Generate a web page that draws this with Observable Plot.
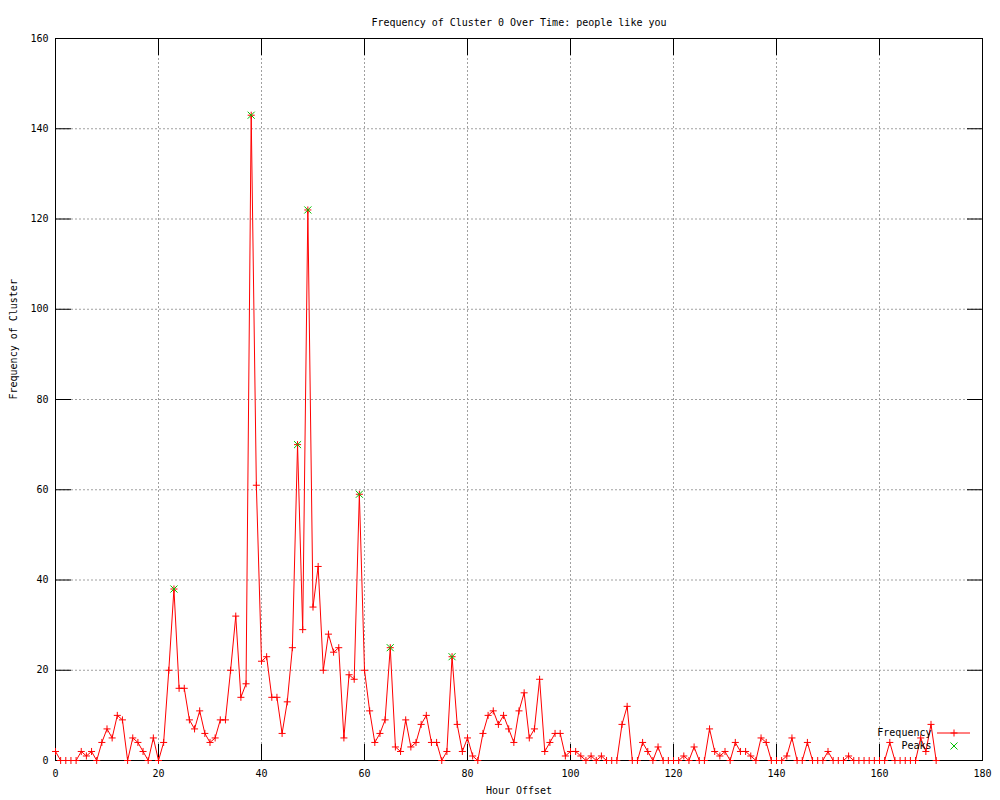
<!DOCTYPE html>
<html>
<head>
<meta charset="utf-8">
<script src="https://cdn.jsdelivr.net/npm/d3@7"></script>
<script src="https://cdn.jsdelivr.net/npm/@observablehq/plot@0.6"></script>
<style>
  html, body { margin: 0; padding: 0; background: #ffffff; }
  #chart svg { display: block; }
</style>
</head>
<body>
<div id="chart"></div>
<script>
// ---- Data ----
const titleText = "Frequency of Cluster 0 Over Time: people like you";
const xLabel = "Hour Offset";
const yLabel = "Frequency of Cluster";
const seriesNames = ["Frequency", "Peaks"];

// Frequency per hour offset, starting at hour 0
const frequency = [
  2, 0, 0, 0, 0, 2, 1, 2, 0, 4,
  7, 5, 10, 9, 0, 5, 4, 2, 0, 5,
  0, 4, 20, 38, 16, 16, 9, 7, 11, 6,
  4, 5, 9, 9, 20, 32, 14, 17, 143, 61,
  22, 23, 14, 14, 6, 13, 25, 70, 29, 122,
  34, 43, 20, 28, 24, 25, 5, 19, 18, 59,
  20, 11, 4, 6, 9, 25, 3, 2, 9, 3,
  4, 8, 10, 4, 4, 0, 2, 23, 8, 2,
  5, 1, 0, 6, 10, 11, 8, 10, 7, 4,
  11, 15, 5, 7, 18, 2, 4, 6, 6, 1,
  2, 2, 1, 0, 1, 0, 1, 0, 0, 0,
  8, 12, 0, 0, 4, 2, 0, 3, 0, 0,
  0, 0, 1, 0, 3, 0, 0, 7, 2, 1,
  2, 0, 4, 2, 2, 1, 0, 5, 4, 0,
  0, 0, 1, 5, 0, 0, 4, 0, 0, 0,
  2, 0, 0, 0, 1, 0, 0, 0, 0, 0,
  0, 0, 4, 0, 0, 0, 0, 0, 5, 2,
  8, 0
];

// Peaks
const peakHours = [23, 38, 47, 49, 59, 65, 77];
const peakValues = [38, 143, 70, 122, 59, 25, 23];

// Axis ticks
const xTicks = [0, 20, 40, 60, 80, 100, 120, 140, 160, 180];
const yTicks = [0, 20, 40, 60, 80, 100, 120, 140, 160];
const xGridTicks = [20, 40, 60, 80, 100, 120, 140, 160];
const yGridTicks = [20, 40, 60, 80, 100, 120, 140];

// ---- Build tables ----
const freqData = frequency.map((v, i) => ({hour: i, value: v}));
const peakData = peakHours.map((h, i) => ({hour: h, value: peakValues[i]}));

const RED = "#ff0000";
const GREEN = "#00c000";
const GRID = "#a0a0a0";
const FONT = "'DejaVu Sans Mono', 'Liberation Mono', monospace";

const plot = Plot.plot({
  width: 1000,
  height: 800,
  marginLeft: 55,
  marginRight: 18,
  marginTop: 38,
  marginBottom: 40,
  style: {fontFamily: FONT, fontSize: "10px", color: "black", background: "white", overflow: "visible"},
  x: {domain: [0, 180]},
  y: {domain: [0, 160]},
  marks: [
    Plot.gridX(xGridTicks, {stroke: GRID, strokeOpacity: 1, strokeDasharray: "2,2"}),
    Plot.gridY(yGridTicks, {stroke: GRID, strokeOpacity: 1, strokeDasharray: "2,2"}),
    Plot.axisX(xTicks, {anchor: "bottom", tickSize: -16, tickPadding: 25, label: null}),
    Plot.axisX(xTicks, {anchor: "top", tickSize: -16, tickFormat: () => "", label: null}),
    Plot.axisY(yTicks, {anchor: "left", tickSize: -16, tickPadding: 23, label: null}),
    Plot.axisY(yTicks, {anchor: "right", tickSize: -16, tickFormat: () => "", label: null}),
    Plot.frame({stroke: "black", strokeWidth: 1}),
    Plot.line(freqData, {x: "hour", y: "value", stroke: RED, strokeWidth: 1}),
    Plot.dot(freqData, {x: "hour", y: "value", symbol: "plus", stroke: RED, strokeWidth: 1, r: 2.4}),
    Plot.dot(peakData, {x: "hour", y: "value", symbol: "times", stroke: GREEN, strokeWidth: 1, r: 3.3}),
    // Title and axis labels
    Plot.text([titleText], {frameAnchor: "top", dy: -20, fill: "black"}),
    Plot.text([xLabel], {frameAnchor: "bottom", dy: 33, fill: "black"}),
    Plot.text([yLabel], {frameAnchor: "left", dx: -42, rotate: -90, fill: "black"}),
    // Legend labels
    Plot.text([seriesNames[0]], {frameAnchor: "bottom-right", dx: -51, dy: -25, textAnchor: "end", fill: "black"}),
    Plot.text([seriesNames[1]], {frameAnchor: "bottom-right", dx: -51, dy: -12, textAnchor: "end", fill: "black"})
  ]
});

// Legend samples (line + symbols), placed relative to the plot frame
(function addLegendSamples() {
  const xs = plot.scale("x"), ys = plot.scale("y");
  const right = Math.max(...xs.range);
  const bottom = Math.max(...ys.range);
  const svg = d3.select(plot);
  const g = svg.append("g").attr("fill", "none").attr("stroke-width", 1);
  const cx = right - 28;
  const y1 = bottom - 27, y2 = bottom - 14;
  g.append("line")
    .attr("x1", right - 45).attr("x2", right - 12)
    .attr("y1", y1).attr("y2", y1)
    .attr("stroke", RED);
  g.append("path")
    .attr("transform", `translate(${cx},${y1})`)
    .attr("d", d3.symbol(d3.symbolPlus, 2.4 * 2.4 * Math.PI)())
    .attr("stroke", RED);
  g.append("path")
    .attr("transform", `translate(${cx},${y2})`)
    .attr("d", d3.symbol(d3.symbolTimes, 3.3 * 3.3 * Math.PI)())
    .attr("stroke", GREEN);
})();

document.getElementById("chart").appendChild(plot);
</script>
</body>
</html>
